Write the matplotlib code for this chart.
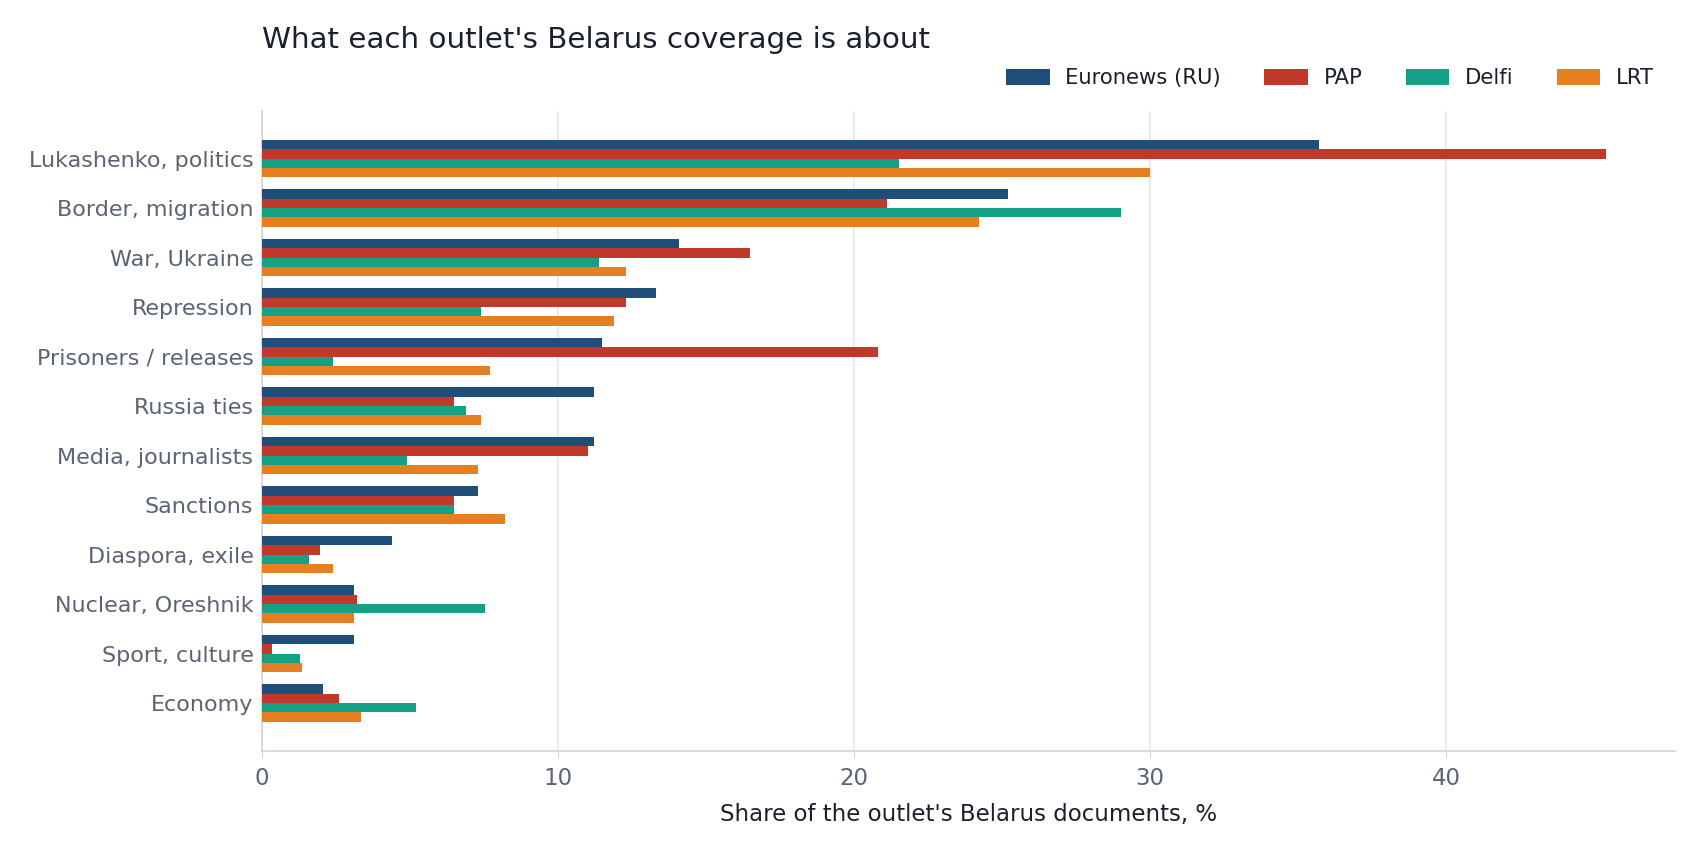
import numpy as np
import matplotlib.pyplot as plt

topics = ["Lukashenko, politics", "Border, migration", "War, Ukraine", "Repression",
          "Prisoners / releases", "Russia ties", "Media, journalists", "Sanctions",
          "Diaspora, exile", "Nuclear, Oreshnik", "Sport, culture", "Economy"]

outlets = ["Euronews (RU)", "PAP", "Delfi", "LRT"]
colors = ["#1f4e79", "#c0392b", "#16a085", "#e67e22"]

euronews = [35.7, 25.2, 14.1, 13.3, 11.5, 11.2, 11.2, 7.3, 4.4, 3.1, 3.1, 2.05]
pap = [45.4, 21.1, 16.5, 12.3, 20.8, 6.5, 11.0, 6.5, 1.95, 3.2, 0.33, 2.6]
delfi = [21.5, 29.0, 11.4, 7.4, 2.4, 6.9, 4.9, 6.5, 1.6, 7.55, 1.3, 5.2]
lrt = [30.0, 24.2, 12.3, 11.9, 7.7, 7.4, 7.3, 8.2, 2.4, 3.1, 1.35, 3.35]

series = [euronews, pap, delfi, lrt]

fig = plt.figure(figsize=(17, 8.5), dpi=100)
ax = fig.add_axes([0.154, 0.117, 0.831, 0.753])

y = np.arange(len(topics))
h = 0.19
for i, (name, vals, c) in enumerate(zip(outlets, series, colors)):
    ax.barh(y + (i - 1.5) * h, vals, height=h, color=c, label=name, zorder=3)

ax.set_yticks(y)
ax.set_yticklabels(topics, fontsize=16, color="#5a6472")
ax.set_ylim(11.96, -0.97)
ax.set_xlim(0, 47.7)
ax.set_xticks([0, 10, 20, 30, 40])
ax.tick_params(axis="x", labelsize=16.5, colors="#5a6472", length=5, color="#d1d5db", pad=7)
ax.tick_params(axis="y", length=0, pad=6)

ax.grid(axis="x", color="#e5e7eb", linewidth=1.2, zorder=0)
ax.grid(axis="y", visible=False)
for s in ["top", "right"]:
    ax.spines[s].set_visible(False)
for s in ["left", "bottom"]:
    ax.spines[s].set_color("#d1d5db")
    ax.spines[s].set_linewidth(1.2)

ax.set_xlabel("Share of the outlet's Belarus documents, %", fontsize=16.5, color="#1a202c", labelpad=9)

fig.text(0.154, 0.953, "What each outlet's Belarus coverage is about", fontsize=21.2,
         color="#1a202c", ha="left", va="center")

fig.legend(loc="center right", bbox_to_anchor=(0.984, 0.908), ncol=4, frameon=False,
           fontsize=15.2, handlelength=2.05, handleheight=0.8, columnspacing=2.05, handletextpad=0.75,
           labelcolor="#1a202c")

fig.savefig("out.png", dpi=100)
